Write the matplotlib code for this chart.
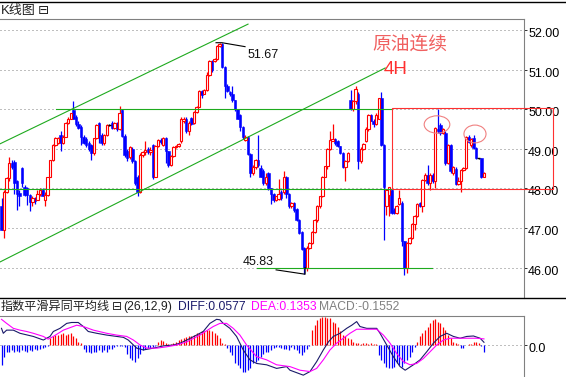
import numpy as np
import matplotlib
matplotlib.use("Agg")
import matplotlib.pyplot as plt
from matplotlib.patches import Ellipse, Rectangle
from matplotlib.lines import Line2D
from matplotlib.transforms import ScaledTranslation

plt.rcParams['font.family'] = ['Liberation Sans', 'Noto Sans CJK SC', 'DejaVu Sans']

# === 4H candles ===
opens = [47.55, 46.96, 47.92, 48.26, 48.64, 48.68, 48.18, 47.88, 48.51, 48.05,
         48.00, 47.84, 47.67, 47.75, 47.72, 47.85, 47.97, 47.72, 47.84, 48.30,
         48.72, 49.10, 49.15, 49.35, 49.14, 49.31, 49.65, 49.77, 49.98, 49.80,
         49.64, 49.55, 49.30, 49.24, 49.16, 49.10, 48.89, 49.27, 49.65, 49.35,
         49.14, 49.35, 49.60, 49.65, 49.53, 49.65, 49.50, 49.98, 49.33, 48.95,
         48.80, 49.00, 48.70, 48.30, 47.90, 48.86, 48.92, 49.00, 48.92, 49.10,
         48.30, 49.07, 49.23, 49.10, 49.27, 48.94, 48.60, 48.82, 49.05, 49.08,
         49.19, 49.70, 49.77, 49.45, 49.78, 49.65, 49.94, 50.07, 50.48, 50.40,
         50.50, 50.86, 51.23, 51.22, 51.27, 51.60, 51.65, 51.07, 50.60, 50.45,
         50.40, 50.23, 50.00, 49.85, 49.56, 49.22, 49.30, 48.88, 48.40, 48.55,
         48.72, 48.52, 48.45, 48.14, 48.40, 48.00, 47.85, 47.70, 47.73, 47.90,
         47.90, 48.30, 47.85, 47.55, 47.62, 47.47, 47.20, 46.90, 46.50, 46.00,
         46.50, 46.62, 46.90, 47.20, 47.55, 47.80, 48.30, 48.56, 49.00, 49.20,
         49.25, 49.20, 49.07, 48.90, 48.55, 48.70, 50.23, 50.00, 50.22, 50.40,
         48.70, 49.00, 49.20, 49.50, 49.85, 49.72, 49.62, 49.77, 50.30, 49.10,
         47.55, 47.84, 47.97, 47.45, 47.38, 47.60, 47.63, 46.66, 45.99, 46.62,
         46.75, 47.10, 47.30, 47.62, 47.55, 48.22, 48.35, 48.13, 48.35, 48.18,
         49.50, 49.60, 49.40, 49.40, 48.64, 49.10, 48.39, 48.50, 48.12, 48.18,
         48.47, 48.51, 49.31, 49.10, 49.27, 49.02, 48.76, 48.76, 48.29]
highs = [47.75, 47.95, 48.30, 48.80, 48.72, 48.72, 48.22, 47.95, 48.55, 48.10,
         48.05, 47.86, 47.80, 47.78, 47.95, 48.00, 48.00, 47.90, 48.30, 48.72,
         49.12, 49.30, 49.30, 49.45, 49.35, 49.68, 49.80, 49.92, 50.22, 49.85,
         49.70, 49.60, 49.35, 49.30, 49.20, 49.12, 49.28, 49.62, 49.68, 49.40,
         49.38, 49.62, 49.62, 49.70, 49.68, 49.68, 50.10, 50.00, 49.38, 49.00,
         49.08, 49.05, 48.72, 48.35, 48.90, 48.95, 49.20, 49.05, 49.05, 49.12,
         49.10, 49.25, 49.28, 49.30, 49.30, 48.96, 48.85, 49.08, 49.10, 49.15,
         49.80, 49.80, 49.80, 49.70, 49.80, 49.97, 50.10, 50.50, 50.50, 50.52,
         50.95, 51.25, 51.25, 51.30, 51.63, 51.67, 51.67, 51.10, 50.65, 50.47,
         50.60, 50.25, 50.02, 49.88, 49.58, 49.35, 49.32, 48.90, 48.60, 48.75,
         49.35, 48.60, 48.50, 48.40, 48.42, 48.02, 47.88, 47.82, 48.24, 47.95,
         48.45, 48.32, 47.88, 47.65, 47.65, 47.50, 47.22, 46.92, 46.52, 46.55,
         46.65, 46.92, 47.22, 47.57, 47.82, 48.32, 48.58, 49.02, 49.45, 49.63,
         49.28, 49.22, 49.08, 48.92, 48.72, 48.92, 50.50, 50.25, 50.60, 50.45,
         49.05, 49.15, 49.55, 49.88, 49.88, 49.75, 49.90, 50.30, 50.45, 49.12,
         47.98, 48.05, 48.00, 47.50, 47.58, 47.97, 47.68, 46.68, 46.64, 46.78,
         47.12, 47.32, 47.62, 47.65, 48.25, 48.38, 48.60, 48.38, 48.40, 49.55,
         50.00, 49.65, 49.52, 49.45, 49.12, 49.12, 48.58, 48.55, 48.30, 48.50,
         48.55, 49.33, 49.35, 49.28, 49.35, 49.05, 48.78, 48.78, 48.42]
lows = [46.95, 46.74, 47.88, 48.20, 48.50, 47.85, 47.45, 47.55, 48.05, 47.80,
        47.59, 47.42, 47.55, 47.60, 47.70, 47.80, 47.80, 47.55, 47.80, 48.28,
        48.70, 49.08, 49.12, 48.95, 49.12, 49.30, 49.62, 49.75, 49.75, 49.58,
        49.50, 49.10, 49.12, 49.05, 48.95, 48.72, 48.85, 49.25, 49.15, 49.10,
        49.10, 49.33, 49.58, 49.50, 49.50, 49.45, 49.48, 49.30, 48.80, 48.70,
        48.75, 48.65, 48.10, 47.80, 47.88, 48.80, 48.85, 48.88, 48.85, 48.25,
        48.28, 49.05, 49.12, 49.08, 48.65, 48.55, 48.58, 48.80, 49.02, 49.05,
        49.15, 49.65, 49.40, 49.35, 49.60, 49.62, 49.90, 50.05, 50.30, 50.38,
        50.48, 50.84, 50.95, 51.20, 51.25, 51.58, 51.05, 50.30, 50.45, 50.35,
        50.20, 49.95, 49.75, 49.45, 49.25, 49.20, 48.85, 48.30, 48.35, 48.50,
        48.55, 48.28, 48.10, 48.10, 47.95, 47.60, 47.65, 47.68, 47.70, 47.70,
        47.85, 47.75, 47.50, 47.50, 47.40, 47.18, 46.85, 46.45, 45.83, 45.90,
        46.48, 46.60, 46.88, 47.15, 47.50, 47.78, 48.28, 48.50, 48.98, 49.20,
        49.10, 49.05, 48.88, 48.52, 48.18, 48.68, 49.98, 49.95, 50.15, 48.50,
        48.65, 48.98, 49.18, 49.45, 49.70, 49.55, 49.60, 49.75, 49.08, 46.70,
        47.33, 47.30, 47.35, 47.35, 47.35, 47.58, 46.54, 45.82, 45.85, 46.60,
        46.72, 46.95, 47.28, 47.52, 47.40, 48.20, 48.10, 47.97, 48.15, 48.00,
        49.40, 49.35, 49.38, 48.60, 48.62, 48.40, 48.35, 48.10, 48.10, 47.92,
        48.45, 48.49, 49.15, 49.05, 49.00, 48.74, 48.74, 48.27, 48.28]
closes = [46.96, 47.92, 48.26, 48.64, 48.55, 48.15, 47.85, 47.80, 48.13, 47.84,
          47.84, 47.67, 47.75, 47.68, 47.85, 47.97, 47.82, 47.84, 48.30, 48.72,
          49.10, 49.27, 49.27, 49.14, 49.31, 49.65, 49.77, 49.90, 49.77, 49.62,
          49.53, 49.30, 49.16, 49.10, 49.00, 48.89, 49.27, 49.60, 49.35, 49.14,
          49.35, 49.60, 49.60, 49.53, 49.65, 49.50, 49.92, 49.33, 48.85, 48.78,
          49.05, 48.70, 48.15, 47.90, 48.86, 48.92, 48.98, 48.92, 48.98, 48.30,
          49.07, 49.23, 49.17, 49.27, 48.94, 48.60, 48.82, 49.05, 49.08, 49.12,
          49.77, 49.76, 49.45, 49.65, 49.63, 49.94, 50.07, 50.48, 50.36, 50.50,
          50.86, 51.23, 51.00, 51.27, 51.60, 51.65, 51.07, 50.60, 50.48, 50.38,
          50.23, 50.00, 49.77, 49.56, 49.30, 49.30, 48.88, 48.40, 48.55, 48.72,
          48.60, 48.30, 48.14, 48.30, 48.00, 47.85, 47.70, 47.80, 47.85, 47.75,
          48.30, 47.85, 47.55, 47.62, 47.45, 47.20, 46.88, 46.47, 46.00, 46.50,
          46.62, 46.90, 47.20, 47.55, 47.80, 48.30, 48.56, 49.00, 49.23, 49.25,
          49.15, 49.07, 48.90, 48.55, 48.70, 48.90, 50.00, 50.22, 50.52, 48.70,
          49.00, 49.12, 49.50, 49.85, 49.72, 49.62, 49.85, 50.28, 49.10, 48.05,
          47.97, 48.03, 47.38, 47.38, 47.55, 47.75, 46.66, 45.99, 46.62, 46.75,
          47.10, 47.30, 47.60, 47.55, 48.22, 48.35, 48.13, 48.35, 48.18, 49.52,
          49.45, 49.40, 49.50, 48.64, 49.10, 48.43, 48.55, 48.12, 48.18, 48.47,
          48.51, 49.31, 49.18, 49.25, 49.02, 48.76, 48.76, 48.29, 48.39]

price_ticks = [46, 47, 48, 49, 50, 51, 52]
price_labels = ["46.00", "47.00", "48.00", "49.00", "50.00", "51.00", "52.00"]

# === MACD panel ===
hist = [-0.44, -0.26, -0.15, -0.15,
        -0.12, -0.15, -0.13, -0.15, -0.12, -0.14, -0.15, -0.12, -0.13, -0.10, -0.12, -0.08, -0.06, -0.05,
        -0.02,
        0.15, 0.20, 0.22, 0.22, 0.24, 0.26, 0.22, 0.24, 0.26, 0.20, 0.15, 0.07, 0.04,
        -0.10, -0.15, -0.15, -0.18, -0.15, -0.15, -0.12, -0.15, -0.12, -0.15, -0.10, -0.08, -0.05, -0.03,
        -0.02, -0.03, -0.05,
        -0.20, -0.30, -0.33, -0.37, -0.30, -0.20, -0.12,
        -0.08, -0.07, -0.06, -0.05, -0.03,
        0.07, 0.11, 0.08, 0.04,
        0.02, 0.03,
        0.04, 0.07, 0.11, 0.13, 0.15, 0.17, 0.19, 0.20, 0.22, 0.26, 0.27, 0.30, 0.32, 0.33, 0.33, 0.32,
        0.27, 0.22, 0.15, 0.04, 0.02,
        -0.07, -0.15, -0.22, -0.41, -0.44, -0.52, -0.59, -0.59, -0.56, -0.52, -0.41, -0.37, -0.33, -0.26,
        -0.19, -0.15, -0.15, -0.11, -0.07, -0.04,
        -0.04, -0.06, -0.10, -0.08, -0.11,
        -0.05, -0.08, -0.12, -0.18, -0.22, -0.15, -0.08, -0.03,
        0.33, 0.44, 0.56, 0.59, 0.63, 0.63, 0.59, 0.61, 0.52, 0.48, 0.41,
        0.30, 0.22, 0.19, 0.15, 0.13, 0.07, 0.04, 0.04, 0.03,
        0.04, 0.04, 0.03, 0.04, 0.03, 0.02,
        -0.22, -0.33, -0.41, -0.48, -0.52, -0.52, -0.48, -0.41, -0.44, -0.48, -0.41, -0.33, -0.26, -0.15,
        -0.05,
        0.07, 0.19, 0.26, 0.33, 0.41, 0.48, 0.56, 0.57, 0.52, 0.48, 0.41, 0.33, 0.22,
        0.15, 0.07, 0.04, 0.02,
        -0.07, -0.07,
        0.00, 0.02, 0.02,
        0.07, 0.07, 0.05,
        -0.02, -0.155]

diff_idx = [0, 0.7, 2.0, 4.6, 7.2, 12.4, 16.3, 18.9, 20.2, 22.8, 25.4, 27.3, 29.9, 31.9, 33.8,
            37.1, 41.0, 44.9, 47.5, 49.4, 51.4, 52.7, 55.3, 59.2, 63.1, 67.0, 69.6, 72.2, 76.0,
            78.6, 81.2, 83.8, 85.1, 86.4, 89.0, 91.6, 94.2, 96.8, 99.4, 103.3, 107.2, 111.1,
            112.4, 117.6, 120.2, 122.8, 125.4, 127.4, 129.3, 131.9, 134.5, 136.5, 138.4, 139.7,
            142.3, 146.2, 147.5, 150.1, 152.7, 155.3, 157.3, 160.5, 163.1, 165.7, 168.3, 170.9,
            173.5, 176.1, 178.7, 181.3, 183.9, 186.5, 188.0]
diff_val = [0.37, 0.26, 0.33, 0.33, 0.26, 0.19, 0.11, 0.19, 0.30, 0.37, 0.48, 0.50, 0.50, 0.41, 0.30,
            0.26, 0.22, 0.19, 0.17, 0.11, 0.00, -0.07, -0.11, -0.07, -0.02, 0.00, 0.04, 0.11, 0.22,
            0.30, 0.48, 0.57, 0.56, 0.48, 0.37, 0.19, -0.11, -0.33, -0.41, -0.44, -0.52, -0.48,
            -0.56, -0.67, -0.59, -0.37, -0.11, 0.07, 0.19, 0.26, 0.37, 0.44, 0.52, 0.41,
            0.37, 0.37, 0.26, 0.00, -0.26, -0.48, -0.56, -0.44, -0.33, -0.15, 0.04, 0.19,
            0.26, 0.19, 0.15, 0.19, 0.20, 0.15, 0.06]
dea_idx = [0, 2.0, 4.6, 7.2, 9.8, 12.4, 16.3, 18.2, 20.2, 24.1, 29.3, 31.9, 35.8, 41.0, 44.9,
           48.8, 51.4, 54.0, 56.6, 60.5, 64.4, 68.3, 72.2, 77.3, 82.5, 85.1, 87.7, 90.3, 92.9,
           95.5, 99.4, 103.3, 107.2, 111.1, 112.4, 116.3, 120.2, 122.8, 125.4, 128.0, 130.6,
           133.2, 135.8, 138.4, 142.3, 146.2, 148.8, 151.4, 154.0, 156.6, 159.2, 161.8, 164.4,
           167.0, 169.6, 172.2, 174.8, 177.4, 181.3, 185.2, 188.0]
dea_val = [0.57, 0.48, 0.37, 0.33, 0.30, 0.26, 0.19, 0.13, 0.19, 0.33, 0.44, 0.41, 0.33, 0.26, 0.22,
           0.19, 0.11, 0.00, -0.07, -0.07, -0.04, 0.00, 0.07, 0.22, 0.41, 0.48, 0.48, 0.37, 0.22,
           0.00, -0.26, -0.33, -0.44, -0.47, -0.48, -0.56, -0.59, -0.52, -0.33, -0.11, 0.04,
           0.15, 0.26, 0.35, 0.35, 0.35, 0.22, 0.04, -0.19, -0.37, -0.44, -0.41, -0.30,
           -0.15, 0.00, 0.11, 0.15, 0.15, 0.15, 0.15, 0.135]

# === figure / panels (pixel layout of the screenshot) ===
W, H = 566, 377
fig = plt.figure(figsize=(W / 100, H / 100), dpi=100)
ax = fig.add_axes([0, (H - 298) / H, 524 / W, (298 - 19) / H])
axm = fig.add_axes([0, 0, 524 / W, (H - 316) / H])

xlim = (-0.585, 203.6)
GRAY = '#808080'
for a in (ax, axm):
    a.set_xlim(*xlim)
    a.set_xticks([])
    for s in ('left', 'bottom'):
        a.spines[s].set_visible(False)
    for s in ('top', 'right'):
        a.spines[s].set_color(GRAY)
        a.spines[s].set_linewidth(0.8)
    a.yaxis.tick_right()
    a.tick_params(axis='y', length=2, width=0.7, color='#303030', pad=1,
                  labelsize=9, labelcolor='black')
    a.set_facecolor('white')

ax.set_ylim(45.228, 52.29)
ax.set_yticks(price_ticks)
ax.set_yticklabels(price_labels)
axm.set_ylim(-0.711, 0.644)
axm.set_yticks([0])
axm.set_yticklabels(["0.0"])
shift = ScaledTranslation(0, -2.5 / 100, fig.dpi_scale_trans)
for lab in ax.get_yticklabels() + axm.get_yticklabels():
    lab.set_transform(lab.get_transform() + shift)

for p in price_ticks:
    ax.axhline(p, color=GRAY, lw=0.72, ls=(0, (1, 3)), zorder=1)
axm.axhline(0, color=GRAY, lw=0.72, ls=(0, (1, 3)), zorder=1)

# === candles ===
o = np.array(opens); c = np.array(closes)
hi = np.array(highs); lo = np.array(lows)
idx = np.arange(len(c))
up = c > o
dn = c < o
flat = c == o
wick_col = np.where(up, '#FF0000', np.where(dn, '#0000FF', 'black'))
ax.vlines(idx, lo, hi, colors=wick_col, lw=0.9, zorder=3)
body = np.maximum(np.abs(c - o), 0.025)
ax.bar(idx[dn], body[dn], bottom=c[dn], width=0.95, color='#0000FF',
       edgecolor='#0000FF', lw=0.4, zorder=4)
ax.bar(idx[up], body[up], bottom=o[up], width=0.95, facecolor='white',
       edgecolor='#FF0000', lw=0.8, zorder=4)
ax.hlines(c[flat], idx[flat] - 0.55, idx[flat] + 0.55, color='black', lw=1.0, zorder=4)

# === drawing tools on the chart ===
GREEN = '#1EAA1E'
ax.plot([-0.585, 96.06], [49.13, 52.16], color=GREEN, lw=0.8, zorder=5)
ax.plot([-0.585, 149.5], [46.14, 51.05], color=GREEN, lw=0.8, zorder=5)
ax.plot([21.2, 152.2], [50.0, 50.0], color=GREEN, lw=0.8, zorder=5)
ax.plot([-0.585, 152.2], [47.99, 47.99], color=GREEN, lw=0.8, zorder=5)
ax.plot([99.6, 167.8], [46.0, 46.0], color=GREEN, lw=0.8, zorder=5)

ax.add_patch(Rectangle((152.2, 47.99), 62.7, 2.04, fill=False, ec='#FF3030',
                       lw=0.8, clip_on=False, zorder=6))
ax.add_patch(Ellipse((169.7, 49.62), 10.0, 0.44, fill=False, ec='#F08080', lw=0.8, zorder=6))
ax.add_patch(Ellipse((184.5, 49.38), 8.6, 0.45, fill=False, ec='#F08080', lw=0.8, zorder=6))

ax.plot([83.6, 85.9, 94.9], [51.69, 51.69, 51.59], color='black', lw=0.8, zorder=6)
ax.text(95.7, 51.38, "51.67", fontsize=9, ha='left', va='center', color='#101010', zorder=7)
ax.plot([107.0, 118.3, 118.3], [45.94, 45.83, 46.0], color='black', lw=0.8, zorder=6)
ax.text(94.1, 46.14, "45.83", fontsize=9, ha='left', va='center', color='#101010', zorder=7)

ax.text(159.2, 51.63, "原油连续", fontsize=13.5, ha='center', va='center',
        color='#F06060', zorder=7)
ax.text(153.7, 51.0, "4H", fontsize=13.5, ha='center', va='center',
        color='#FF3030', zorder=7)

# === MACD ===
hv = np.array(hist)
axm.vlines(idx, 0, hv, colors=np.where(hv >= 0, '#FF0000', '#0000FF'), lw=0.9, zorder=2)
axm.plot(diff_idx, diff_val, color='#1A1A6A', lw=0.8, zorder=3)
axm.plot(dea_idx, dea_val, color='#FF00FF', lw=0.8, zorder=3)

# === window chrome ===
fig.add_artist(Line2D([0, 1], [1 - 1.5 / H] * 2, color='black', lw=1))
fig.add_artist(Line2D([0, 1], [1 - 298 / H] * 2, color='black', lw=1))
fig.text(0.5 / W, 1 - 11 / H, "K线图", fontsize=9.4, ha='left', va='center', color='#202020')
fig.text(38 / W, 1 - 11 / H, "⊟", fontsize=9.5, ha='left', va='center', color='#202020',
         family='DejaVu Sans')

y_hdr = 1 - 307 / H
fig.text(1 / W, y_hdr, "指数平滑异同平均线", fontsize=8.7, ha='left', va='center', color='#202020')
fig.text(112 / W, y_hdr, "⊟", fontsize=8.7, ha='left', va='center', color='#202020',
         family='DejaVu Sans')
fig.text(123 / W, y_hdr, "(26,12,9)", fontsize=8.7, ha='left', va='center', color='#202020')
fig.text(178 / W, y_hdr, "DIFF:0.0577", fontsize=8.7, ha='left', va='center', color='#1A1A6A')
fig.text(251 / W, y_hdr, "DEA:0.1353", fontsize=8.7, ha='left', va='center', color='#FF00FF')
fig.text(319 / W, y_hdr, "MACD:-0.1552", fontsize=8.7, ha='left', va='center', color=GRAY)

fig.savefig("out.png", dpi=100)
